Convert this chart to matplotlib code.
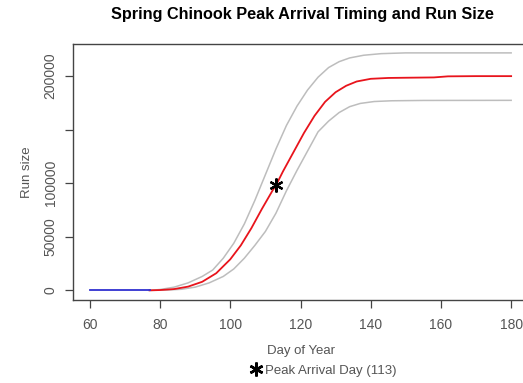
import matplotlib
matplotlib.use('Agg')
import matplotlib.pyplot as plt
from matplotlib.lines import Line2D

plt.rcParams['font.family'] = ['Liberation Sans', 'DejaVu Sans']

# Pre-season (no fish yet)
pre_days = [60, 77]
pre_run = [0, 0]

# Median cumulative run size
mid_days = [77, 80, 84, 88, 92, 96, 100, 103, 106, 109, 112, 113, 115, 118, 121,
            124, 127, 130, 133, 136, 140, 145, 150, 158, 162, 170, 180]
mid_run = [0, 300, 1200, 3500, 8000, 16000, 29000, 42000, 58000, 76000, 93000, 98000,
           111000, 129000, 147000, 163000, 176000, 185000, 191000, 195000, 197500,
           198300, 198500, 198800, 199800, 200000, 200000]

# Upper bound
up_days = [77, 80, 84, 88, 92, 95, 98, 101, 104, 107, 110, 113, 116, 119, 122,
           125, 128, 131, 134, 138, 143, 150, 180]
up_run = [0, 800, 3000, 7000, 13000, 19000, 30000, 44000, 62000, 84000, 108000,
          132000, 154000, 172000, 187000, 199000, 208000, 213500, 217000, 219500,
          221000, 221700, 221700]

# Lower bound
lo_days = [77, 82, 86, 90, 94, 98, 101, 104, 107, 110, 113, 116, 119, 122, 125,
           128, 131, 134, 137, 141, 146, 155, 180]
lo_run = [0, 300, 1000, 3000, 7000, 13000, 20000, 30000, 42000, 55000, 72000,
          93000, 112000, 130000, 148000, 158000, 166000, 171500, 174500, 176300,
          177000, 177300, 177400]

peak_day = 113
peak_run = 98000

fig = plt.figure(figsize=(5.23, 3.83), dpi=100)
ax = fig.add_axes([73 / 523, 83 / 383, 455 / 523, 256 / 383])

ax.plot(up_days, up_run, color='#bdbdbd', lw=1.1)
ax.plot(lo_days, lo_run, color='#bdbdbd', lw=1.1)
ax.plot(mid_days, mid_run, color='#e8141c', lw=1.3)
ax.plot(pre_days, pre_run, color='#3030d0', lw=1.3)
ax.plot([peak_day], [peak_run], marker=(6, 2, 0), color='black', ms=10, mew=1.6)

ax.set_xlim(55.2, 184.8)
ax.set_ylim(-9000, 230000)
ax.set_xticks([60, 80, 100, 120, 140, 160, 180])
ax.set_yticks([0, 50000, 100000, 150000, 200000])
ax.set_yticklabels(['0', '50000', '100000', '', '200000'], rotation=90, va='center')
ax.tick_params(colors='#444444', labelsize=10, length=6, width=0.9, labelcolor='#555555')
ax.tick_params(axis='y', pad=5)
ax.tick_params(axis='x', pad=7)
for s in ax.spines.values():
    s.set_color('#444444')
    s.set_linewidth(1.0)

ax.set_xlabel('Day of Year', fontsize=9.5, color='#555555', labelpad=9)
ax.set_ylabel('Run size', fontsize=9.5, color='#555555', labelpad=8)
fig.text(302 / 523, 1 - 14 / 383, 'Spring Chinook Peak Arrival Timing and Run Size',
         ha='center', va='center', fontsize=11.7, fontweight='bold')

fig.add_artist(Line2D([256 / 523], [1 - 369 / 383], transform=fig.transFigure,
                      marker=(6, 2, 0), color='black', ms=10, mew=1.8))
fig.text(265 / 523, 1 - 371 / 383, 'Peak Arrival Day (113)', ha='left', va='center',
         fontsize=9.5, color='#555555')

fig.savefig('out.png', dpi=100)
